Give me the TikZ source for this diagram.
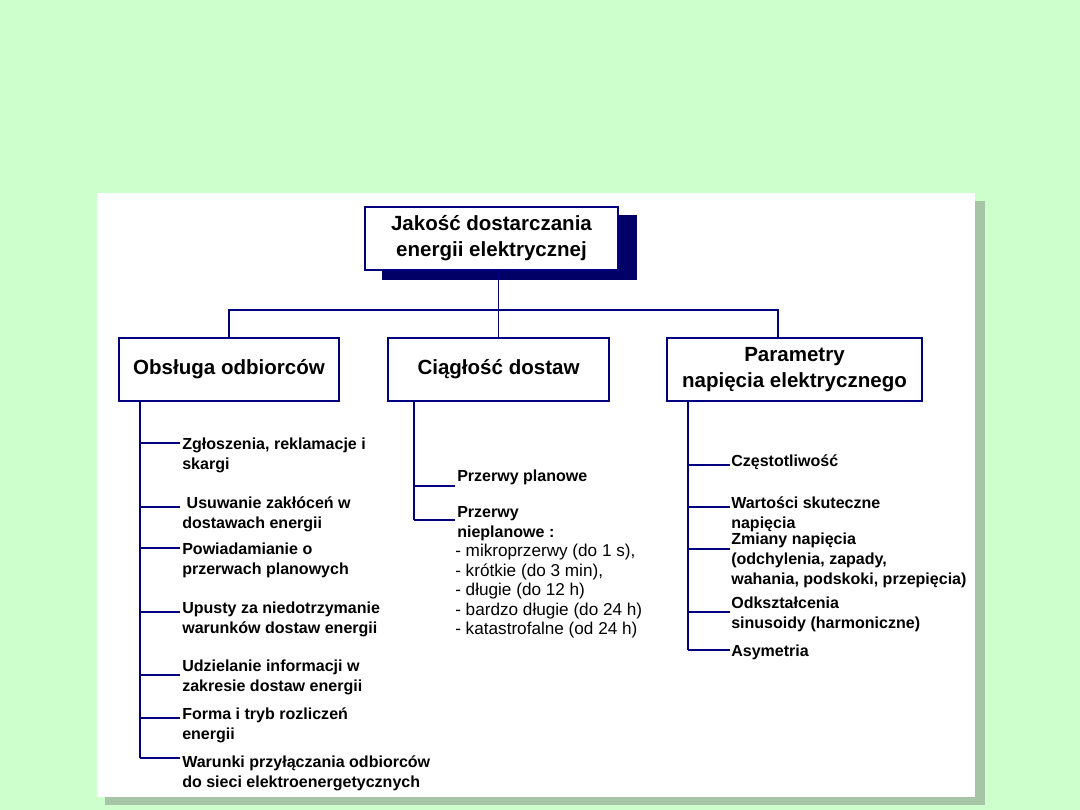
\documentclass[tikz,border=0pt]{standalone}
\usepackage{fontspec}
\setmainfont{Liberation Sans}
\usetikzlibrary{positioning}

\definecolor{bggreen}{HTML}{CCFFCC}
\definecolor{panelshadow}{HTML}{A6C4A6}
\definecolor{navyline}{HTML}{000080}
\definecolor{navyshadow}{HTML}{000066}

\begin{document}
\begin{tikzpicture}[x=0.025cm, y=-0.025cm,
  head/.style={draw=navyline, fill=white, line width=0.8pt, inner sep=0pt, align=center,
    minimum height=1.575cm, font=\bfseries\fontsize{14.6}{18.5}\selectfont},
  item/.style={anchor=north west, inner sep=0pt, align=left, font=\bfseries\fontsize{11.4}{14.2}\selectfont},
  plain/.style={anchor=north west, inner sep=0pt, align=left, font=\fontsize{12.2}{13.9}\selectfont},
  conn/.style={draw=navyline, line width=0.8pt}
]
  % tlo i plansza
  \fill[bggreen] (0,0) rectangle (1080,810);
  \useasboundingbox (0,0) rectangle (1080,810);
  \fill[panelshadow] (105,201) rectangle (985,805);
  \fill[white] (97,193) rectangle (975,797);

  % naglowek
  \node[head, minimum width=6.325cm] (jakosc) at (491.5,238.5) {Jakość dostarczania\\energii elektrycznej};
  \fill[navyshadow] ([shift={(18,9)}]jakosc.south west) rectangle ([shift={(18,9)}]jakosc.north east);
  \node[head, minimum width=6.325cm] at (jakosc) {Jakość dostarczania\\energii elektrycznej};

  % trzy grupy
  \node[head, minimum width=5.5cm] (obsluga) at (229,369.5) {Obsługa odbiorców};
  \node[head, minimum width=5.525cm] (ciaglosc) at (498.5,369.5) {Ciągłość dostaw};
  \node[head, minimum width=6.375cm] (parametry) at (794.5,369.5) {Parametry\\napięcia elektrycznego};

  \coordinate (busR) at (778,310);
  \draw[conn] (ciaglosc.north |- jakosc.south) -- (ciaglosc.north);
  \draw[conn] (obsluga.north) |- (busR) -- (busR |- parametry.north);

  % obsluga odbiorcow
  \node[item] (z1) at (182,438) {Zgłoszenia, reklamacje i\\skargi};
  \node[item] (z2) at (182,496) {~Usuwanie zakłóceń w\\dostawach energii};
  \node[item] (z3) at (182,543) {Powiadamianie o\\przerwach planowych};
  \node[item] (z4) at (182,602) {Upusty za niedotrzymanie\\warunków dostaw energii};
  \node[item] (z5) at (182,660) {Udzielanie informacji w\\zakresie dostaw energii};
  \node[item] (z6) at (182,707) {Forma i tryb rozliczeń\\energii};
  \node[item] (z7) at (182,755) {Warunki przyłączania odbiorców\\do sieci elektroenergetycznych};

  \coordinate (trunkL) at (140,401);
  \foreach \y in {443,507,548,612,675,718,758}
    \draw[conn] (trunkL |- 0,\y) -- (180,\y);
  \draw[conn] (trunkL) -- (trunkL |- 0,758);

  % ciaglosc dostaw
  \node[item] (p1) at (457,470) {Przerwy planowe};
  \node[item] (p2) at (457,506) {Przerwy\\nieplanowe :};
  \node[plain] (p3) at (455,544) {- mikroprzerwy (do 1 s),\\- krótkie (do 3 min),\\- długie (do 12 h)\\- bardzo długie (do 24 h)\\- katastrofalne (od 24 h)};

  \coordinate (trunkM) at (414,401);
  \foreach \y in {486,520}
    \draw[conn] (trunkM |- 0,\y) -- (455,\y);
  \draw[conn] (trunkM) -- (trunkM |- 0,520);

  % parametry napiecia
  \node[item] (r1) at (731,454) {Częstotliwość};
  \node[item] (r2) at (731,496) {Wartości skuteczne\\napięcia};
  \node[item] (r3) at (731,533) {Zmiany napięcia\\(odchylenia, zapady,\\wahania, podskoki, przepięcia)};
  \node[item] (r4) at (731,597) {Odkształcenia\\sinusoidy (harmoniczne)};
  \node[item] (r5) at (731,645) {Asymetria};

  \coordinate (trunkR) at (688,401);
  \foreach \y in {465,507,549,612,650}
    \draw[conn] (trunkR |- 0,\y) -- (730,\y);
  \draw[conn] (trunkR) -- (trunkR |- 0,650);
\end{tikzpicture}
\end{document}
